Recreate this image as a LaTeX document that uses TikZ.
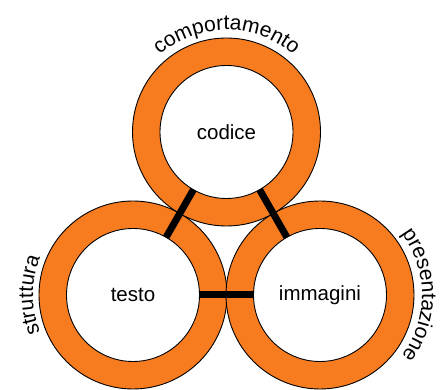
\documentclass[tikz,border=0pt]{standalone}
\usepackage{fontspec}
\setmainfont{Liberation Sans}
\usetikzlibrary{decorations.text}
\definecolor{ringorange}{RGB}{247,123,31}
\begin{document}
\begin{tikzpicture}[x=1pt,y=1pt,
  ring/.style={draw=black, line width=0.9pt, fill=ringorange},
  hub/.style={circle, draw=black, line width=0.9pt, fill=white,
    minimum size=133pt, inner sep=0pt, outer sep=0pt,
    font=\fontsize{20.5}{24}\selectfont},
  link/.style={draw=black, line width=7pt},
  arclabel/.style={decorate, decoration={text along path, text align=center,
    text={|\fontsize{21}{24}\selectfont|#1}}}
]
\useasboundingbox (0,0) rectangle (444,390);
\coordinate (cL) at (133,95);
\coordinate (cR) at (320,95);
\coordinate (cT) at (226.5,258);

% lower rings
\draw[ring] (cL) circle[radius=94];
\node[hub] (testo) at (cL) {testo};
\draw[ring] (cR) circle[radius=94];
\node[hub] (immagini) at (cR) {immagini};
% upper ring
\draw[ring] (cT) circle[radius=94];
\node[hub] (codice) at (cT) {codice};

% links between the hubs
\draw[link] (codice) -- (testo);
\draw[link] (codice) -- (immagini);
\draw[link] (testo) -- (immagini);

% labels around the rings
\path[arclabel=comportamento] ([shift={(170:102)}]cT) arc[start angle=170, end angle=10, radius=102];
\path[arclabel=struttura] ([shift={(240:100)}]cL) arc[start angle=240, end angle=120, radius=100];
\path[arclabel=presentazione] ([shift={(60:102)}]cR) arc[start angle=60, end angle=-60, radius=102];
\end{tikzpicture}
\end{document}
